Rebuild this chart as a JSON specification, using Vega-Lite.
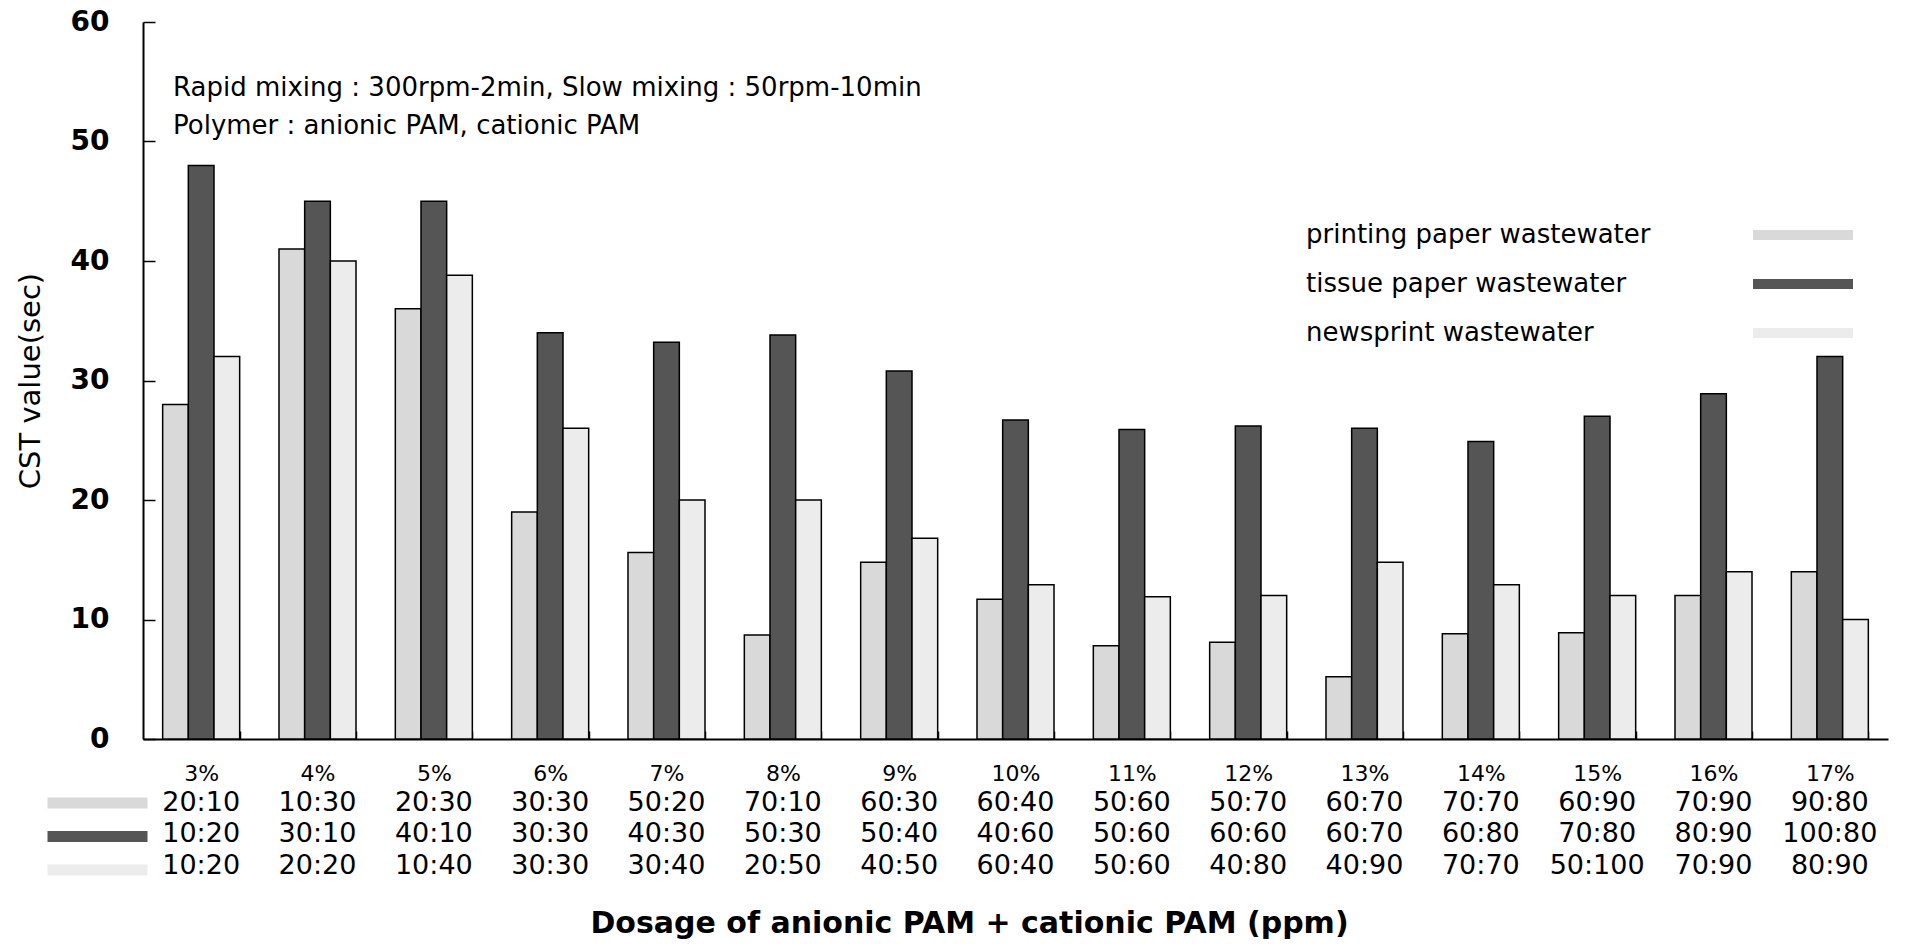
{
  "$schema": "https://vega.github.io/schema/vega-lite/v6.json",
  "background": "white",
  "padding": {"left": 16, "top": 8, "right": 15, "bottom": 10},
  "bounds": "flush",
  "spacing": 48,
  "datasets": {
    "cst": [
      {"dose": "3%", "series": "printing paper wastewater", "cst": 28, "ratio": "20:10"},
      {"dose": "3%", "series": "tissue paper wastewater", "cst": 48, "ratio": "10:20"},
      {"dose": "3%", "series": "newsprint wastewater", "cst": 32, "ratio": "10:20"},
      {"dose": "4%", "series": "printing paper wastewater", "cst": 41, "ratio": "10:30"},
      {"dose": "4%", "series": "tissue paper wastewater", "cst": 45, "ratio": "30:10"},
      {"dose": "4%", "series": "newsprint wastewater", "cst": 40, "ratio": "20:20"},
      {"dose": "5%", "series": "printing paper wastewater", "cst": 36, "ratio": "20:30"},
      {"dose": "5%", "series": "tissue paper wastewater", "cst": 45, "ratio": "40:10"},
      {"dose": "5%", "series": "newsprint wastewater", "cst": 38.8, "ratio": "10:40"},
      {"dose": "6%", "series": "printing paper wastewater", "cst": 19, "ratio": "30:30"},
      {"dose": "6%", "series": "tissue paper wastewater", "cst": 34, "ratio": "30:30"},
      {"dose": "6%", "series": "newsprint wastewater", "cst": 26, "ratio": "30:30"},
      {"dose": "7%", "series": "printing paper wastewater", "cst": 15.6, "ratio": "50:20"},
      {"dose": "7%", "series": "tissue paper wastewater", "cst": 33.2, "ratio": "40:30"},
      {"dose": "7%", "series": "newsprint wastewater", "cst": 20, "ratio": "30:40"},
      {"dose": "8%", "series": "printing paper wastewater", "cst": 8.7, "ratio": "70:10"},
      {"dose": "8%", "series": "tissue paper wastewater", "cst": 33.8, "ratio": "50:30"},
      {"dose": "8%", "series": "newsprint wastewater", "cst": 20, "ratio": "20:50"},
      {"dose": "9%", "series": "printing paper wastewater", "cst": 14.8, "ratio": "60:30"},
      {"dose": "9%", "series": "tissue paper wastewater", "cst": 30.8, "ratio": "50:40"},
      {"dose": "9%", "series": "newsprint wastewater", "cst": 16.8, "ratio": "40:50"},
      {"dose": "10%", "series": "printing paper wastewater", "cst": 11.7, "ratio": "60:40"},
      {"dose": "10%", "series": "tissue paper wastewater", "cst": 26.7, "ratio": "40:60"},
      {"dose": "10%", "series": "newsprint wastewater", "cst": 12.9, "ratio": "60:40"},
      {"dose": "11%", "series": "printing paper wastewater", "cst": 7.8, "ratio": "50:60"},
      {"dose": "11%", "series": "tissue paper wastewater", "cst": 25.9, "ratio": "50:60"},
      {"dose": "11%", "series": "newsprint wastewater", "cst": 11.9, "ratio": "50:60"},
      {"dose": "12%", "series": "printing paper wastewater", "cst": 8.1, "ratio": "50:70"},
      {"dose": "12%", "series": "tissue paper wastewater", "cst": 26.2, "ratio": "60:60"},
      {"dose": "12%", "series": "newsprint wastewater", "cst": 12, "ratio": "40:80"},
      {"dose": "13%", "series": "printing paper wastewater", "cst": 5.2, "ratio": "60:70"},
      {"dose": "13%", "series": "tissue paper wastewater", "cst": 26, "ratio": "60:70"},
      {"dose": "13%", "series": "newsprint wastewater", "cst": 14.8, "ratio": "40:90"},
      {"dose": "14%", "series": "printing paper wastewater", "cst": 8.8, "ratio": "70:70"},
      {"dose": "14%", "series": "tissue paper wastewater", "cst": 24.9, "ratio": "60:80"},
      {"dose": "14%", "series": "newsprint wastewater", "cst": 12.9, "ratio": "70:70"},
      {"dose": "15%", "series": "printing paper wastewater", "cst": 8.9, "ratio": "60:90"},
      {"dose": "15%", "series": "tissue paper wastewater", "cst": 27, "ratio": "70:80"},
      {"dose": "15%", "series": "newsprint wastewater", "cst": 12, "ratio": "50:100"},
      {"dose": "16%", "series": "printing paper wastewater", "cst": 12, "ratio": "70:90"},
      {"dose": "16%", "series": "tissue paper wastewater", "cst": 28.9, "ratio": "80:90"},
      {"dose": "16%", "series": "newsprint wastewater", "cst": 14, "ratio": "70:90"},
      {"dose": "17%", "series": "printing paper wastewater", "cst": 14, "ratio": "90:80"},
      {"dose": "17%", "series": "tissue paper wastewater", "cst": 32, "ratio": "100:80"},
      {"dose": "17%", "series": "newsprint wastewater", "cst": 10, "ratio": "80:90"}
    ]
  },
  "config": {
    "view": {"stroke": null},
    "axis": {"grid": false, "domainColor": "black", "tickColor": "black", "labelColor": "black", "titleColor": "black"}
  },
  "resolve": {
    "scale": {"fill": "independent", "y": "independent"},
    "legend": {"fill": "independent"},
    "axis": {"x": "independent", "y": "independent"}
  },
  "vconcat": [
    {
      "width": 1745,
      "height": 717,
      "data": {"name": "cst"},
      "title": {
        "text": "Rapid mixing : 300rpm-2min, Slow mixing : 50rpm-10min",
        "subtitle": "Polymer : anionic PAM, cationic PAM",
        "anchor": "start",
        "frame": "group",
        "dx": 30,
        "offset": -131,
        "font": "DejaVu Sans",
        "fontSize": 26,
        "fontWeight": "normal",
        "color": "black",
        "subtitleFont": "DejaVu Sans",
        "subtitleFontSize": 26,
        "subtitleColor": "black",
        "subtitlePadding": 12
      },
      "mark": {"type": "bar", "stroke": "black", "strokeWidth": 1.5},
      "encoding": {
        "x": {
          "field": "dose", "type": "nominal", "sort": null,
          "scale": {"paddingInner": 0.338, "paddingOuter": 0.169},
          "axis": {
            "title": null, "labelAngle": 0, "labelFont": "DejaVu Sans", "labelFontSize": 22,
            "labelPadding": 32, "tickSize": -8, "tickBand": "extent", "tickWidth": 1.5,
            "domainWidth": 2
          }
        },
        "xOffset": {
          "field": "series", "type": "nominal",
          "sort": ["printing paper wastewater", "tissue paper wastewater", "newsprint wastewater"],
          "scale": {"paddingInner": 0, "paddingOuter": 0}
        },
        "y": {
          "field": "cst", "type": "quantitative",
          "scale": {"domain": [0, 60], "nice": false},
          "axis": {
            "title": "CST value(sec)", "values": [0, 10, 20, 30, 40, 50, 60],
            "labelFont": "DejaVu Sans", "labelFontWeight": "bold", "labelFontSize": 28,
            "labelPadding": 46, "tickSize": -12, "tickWidth": 1.5, "domainWidth": 2,
            "titleFont": "DejaVu Sans", "titleFontSize": 29, "titleFontWeight": "normal",
            "titlePadding": 25
          }
        },
        "fill": {
          "field": "series", "type": "nominal",
          "scale": {
            "domain": ["printing paper wastewater", "tissue paper wastewater", "newsprint wastewater"],
            "range": ["#d9d9d9", "#555555", "#ececec"]
          },
          "legend": {
            "orient": "none", "legendX": 1647, "legendY": 200, "title": null,
            "direction": "vertical", "symbolType": "M-10,-1H10V1H-10Z", "symbolSize": 100,
            "symbolStrokeWidth": 0, "labelOffset": -510, "labelFont": "DejaVu Sans",
            "labelFontSize": 26, "labelColor": "black", "labelLimit": 600,
            "rowPadding": 23, "padding": 0
          }
        }
      }
    },
    {
      "width": 1745,
      "height": 94.5,
      "data": {"name": "cst"},
      "layer": [
        {
          "mark": {"type": "rect", "opacity": 0},
          "encoding": {
            "x": {
              "field": "dose", "type": "nominal", "sort": null,
              "scale": {"paddingInner": 0.338, "paddingOuter": 0.169},
              "axis": {
                "title": "Dosage of anionic PAM + cationic PAM (ppm)", "labels": false, "ticks": false,
                "domain": false, "titleFont": "DejaVu Sans", "titleFontSize": 30,
                "titleFontWeight": "bold", "titlePadding": 27, "titleX": 826
              }
            },
            "y": {
              "field": "series", "type": "nominal",
              "scale": {
                "domain": ["printing paper wastewater", "tissue paper wastewater", "newsprint wastewater"],
                "paddingInner": 0, "paddingOuter": 0
              },
              "axis": null
            },
            "fill": {
              "field": "series", "type": "nominal",
              "scale": {
                "domain": ["printing paper wastewater", "tissue paper wastewater", "newsprint wastewater"],
                "range": ["#d9d9d9", "#555555", "#ececec"]
              },
              "legend": {
                "orient": "none", "legendX": -50.5, "legendY": 11, "title": null,
                "direction": "vertical", "symbolType": "M-10,-1.1H10V1.1H-10Z", "symbolSize": 100,
                "symbolStrokeWidth": 0, "symbolOpacity": 1, "labelExpr": "''",
                "labelFontSize": 10, "rowPadding": 21.5, "padding": 0
              }
            }
          }
        },
        {
          "mark": {"type": "text", "font": "DejaVu Sans", "fontSize": 27, "color": "black"},
          "encoding": {
            "x": {
              "field": "dose", "type": "nominal", "sort": null,
              "scale": {"paddingInner": 0.338, "paddingOuter": 0.169},
              "axis": {
                "title": "Dosage of anionic PAM + cationic PAM (ppm)", "labels": false, "ticks": false,
                "domain": false, "titleFont": "DejaVu Sans", "titleFontSize": 30,
                "titleFontWeight": "bold", "titlePadding": 27, "titleX": 826
              }
            },
            "y": {
              "field": "series", "type": "nominal",
              "scale": {
                "domain": ["printing paper wastewater", "tissue paper wastewater", "newsprint wastewater"],
                "paddingInner": 0, "paddingOuter": 0
              },
              "axis": null
            },
            "text": {"field": "ratio", "type": "nominal"}
          }
        }
      ]
    }
  ]
}
